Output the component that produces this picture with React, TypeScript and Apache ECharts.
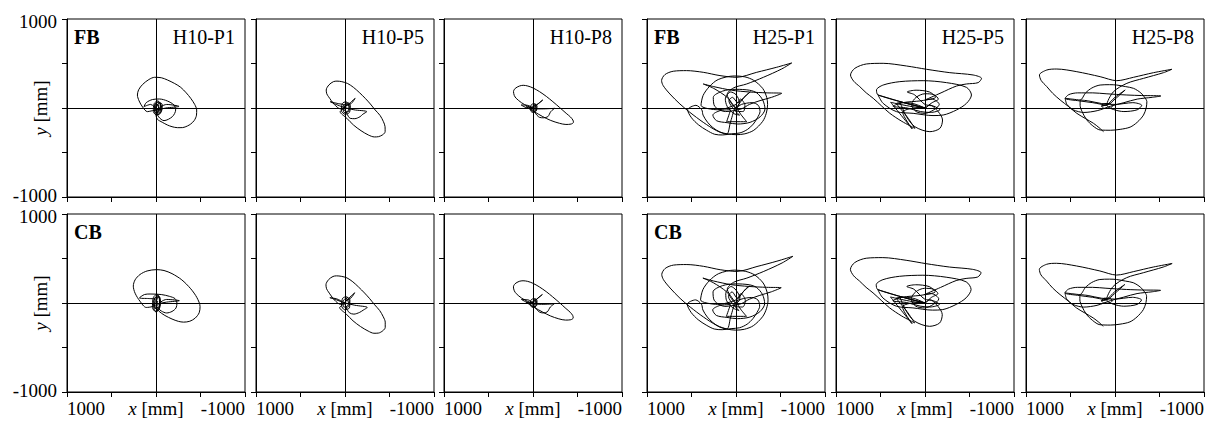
import React, { useEffect, useRef } from "react";
import * as echarts from "echarts";

const AXIS_MIN = -1000;
const AXIS_MAX = 1000;
const AXIS_STEP = 500;
const rowNames = ["FB", "CB"];
const panelNames = ["H10-P1", "H10-P5", "H10-P8", "H25-P1", "H25-P5", "H25-P8"];
const yTickLabels = [1000, -1000];
const xTickLabels = [1000, -1000];
const xAxisTitle = "{i|x} [mm]";
const yAxisTitle = "{i|y} [mm]";

// trajectories in mm: [x, y]
const fbH10P1 = [[0,0],[-40,60],[-70,40],[-60,-40],[-10,-80],[30,-40],[20,50],[-20,80],[-60,20],[-50,-60],[0,-70],[20,0],[-10,60],[-50,50],[-40,-30],[10,-50],[15,30],[-25,70],[-55,10],[-35,-55],[5,-30],[0,40],[-30,30],[-20,-20],
[60,40],[135,15],[110,60],[40,95],[-40,101],[-127,79],[-202,34],[-221,-22],[-184,-97],[-90,-142],[-30,-100],[-10,-40],
[-120,40],[-259,18],[-110,0],[-20,-20],
[40,-30],[97,-41],[150,10],[190,80],[209,146],[195,205],[150,265],[80,320],[15,345],[-60,340],[-128,315],[-210,275],[-278,232],[-340,170],[-390,109],[-435,40],[-457,-22],[-455,-80],[-430,-140],[-390,-180],[-353,-202],[-300,-220],[-240,-221],[-180,-210],[-128,-191],[-70,-160],[-16,-127],[0,-80],[-30,-20],[-20,40],[0,10]];

const fbH10P5 = [[0,0],[-30,60],[-60,30],[-50,-50],[0,-70],[40,-30],[30,50],[-10,70],[-50,20],[-40,-40],[10,-50],[20,20],[-20,55],[-45,0],[-20,-45],[15,-10],[0,30],
[80,50],[166,71],[100,40],[20,10],[-100,-20],[-245,-41],[-200,-70],[-170,-97],[-110,-120],[-58,-116],[-20,-60],[0,0],[-60,60],[-114,109],[-70,50],[-20,30],[30,-20],
[55,-41],[-20,-115],[-95,-191],[-180,-255],[-264,-304],[-330,-325],[-376,-322],[-425,-300],[-451,-266],[-450,-210],[-432,-154],[-395,-85],[-339,-22],[-285,45],[-227,109],[-160,175],[-95,232],[-30,275],[36,296],[90,302],[130,296],[180,260],[211,202],[205,160],[185,127],[120,40],[50,-10],[0,0]];

const fbH10P8 = [[0,0],[-25,45],[-45,20],[-35,-35],[5,-50],[30,-20],[20,35],[-15,50],[-40,5],[-20,-40],[15,-30],[10,15],[-15,35],[-30,0],[-10,-30],[5,0],
[60,30],[133,34],[90,10],[20,-10],[-100,-10],[-242,-4],[-200,-40],[-167,-97],[-120,-110],[-73,-105],[-20,-50],[0,0],[-60,50],[-110,90],[-50,40],[0,0],
[77,15],[-20,-45],[-110,-97],[-200,-140],[-298,-172],[-370,-185],[-429,-180],[-455,-160],[-448,-135],[-420,-100],[-373,-60],[-300,5],[-223,71],[-150,130],[-73,184],[0,225],[58,247],[110,255],[152,247],[200,220],[219,184],[210,140],[189,109],[130,60],[60,20],[0,0]];

const fbH25P1 = [[0,0],[-60,80],[-120,150],[-160,180],[-90,120],[-20,60],[40,120],[80,80],[20,-20],[-40,-80],[30,-60],[100,20],[120,100],[60,180],[0,150],[-40,60],[10,-30],[-80,-40],[-100,30],[-50,100],[0,40],
[200,-20],
[393,30],[370,140],[300,240],[200,320],[20,360],[-100,350],[-200,310],[-300,220],[-345,120],[-355,40],[-340,-60],[-300,-150],[-200,-250],[-100,-290],[0,-300],[100,-290],[180,-270],[260,-220],[320,-160],[370,-80],[385,-20],
[450,30],[544,-22],[500,-110],[420,-190],[330,-250],[240,-295],[151,-303],[50,-290],[-45,-280],[-130,-240],[-195,-180],[-240,-110],[-270,-40],[-250,30],[-180,60],[-60,40],[0,0],
[100,120],[250,220],[368,270],[250,240],[50,200],[-150,180],[-350,170],[-514,165],[-400,120],[-270,83],[-150,40],[-60,-10],
[120,-40],[240,20],[255,120],[150,190],[0,210],[-150,200],[-233,170],[-300,90],[-326,-11],[-270,-100],[-158,-161],[-20,-180],[100,-165],[218,-143],[260,-80],[180,-30],[60,-20],
[105,-154],[-120,-154],[-60,-80],[0,0],
[60,-150],[105,-293],[218,-255],[368,-161],[518,-49],[630,45],[743,158],[818,251],[836,308],[799,375],[705,413],[555,420],[368,401],[180,364],[-8,345],[-233,401],[-458,458],[-626,506],[-514,439],[-308,345],[-120,270],[30,225],[100,150],[50,60],[0,0]];

const fbH25P5 = [[0,0],[-80,60],[-150,100],[-100,150],[0,160],[100,120],[150,40],[100,-40],[0,-60],[-100,-20],[-160,40],[-80,100],[50,80],[250,60],[358,20],[200,0],[50,-40],[-60,-50],[-167,-20],[-100,20],[0,40],[120,150],[200,180],[100,200],[-50,180],[-120,120],[0,90],
[-180,170],[-354,247],[-466,270],[-597,285],[-635,333],[-541,371],[-279,397],[-17,435],[208,472],[470,502],[657,495],[788,446],[837,371],[800,300],[733,240],[660,170],[582,109],[490,25],[395,-60],[260,-150],[114,-229],[200,-100],[320,52],[200,60],[100,40],[0,0],
[527,146],[545,202],[470,258],[283,296],[21,307],[-241,285],[-466,232],[-522,146],[-466,52],[-354,-22],[-204,-79],[-90,-85],[133,-60],[320,-41],[470,52],[527,146],
[200,50],[0,0],
[283,71],[208,-97],[114,-210],[-55,-266],[-167,-229],[-197,-135],[-148,-41],[-54,34],[0,0],
[386,64],[143,-236],[250,-50],[100,0],[0,0]];

const fbH25P8 = [[92,34],[150,22],[120,50],[60,50],[30,22],[60,-5],[120,-5],[150,22],[92,34],
[0,120],[-114,202],[0,100],[92,34],
[250,60],[400,80],[560,109],[520,150],[420,170],[250,170],[100,160],[-133,146],[-300,140],[-515,135],[-420,120],[-250,100],[-100,60],[50,20],[200,-30],[350,-50],[470,-20],[540,40],[560,109],[480,100],[392,90],
[330,170],[260,225],[167,258],[60,262],[-20,258],[-120,240],[-208,221],[-290,170],[-340,110],[-358,71],[-350,0],[-320,-80],[-250,-160],[-170,-215],[-58,-240],[50,-250],[167,-247],[250,-200],[320,-130],[370,-40],[392,30],[392,90],
[300,80],[150,50],[0,40],[-200,60],[-300,30],[-250,-20],[-100,-40],[92,34],
[20,180],[-133,277],[-320,333],[-545,397],[-639,435],[-433,397],[-208,345],[-20,307],[167,352],[429,408],[654,438],[766,427],[849,371],[830,310],[766,240],[700,165],[616,90],[520,15],[429,-60],[330,-120],[242,-172],[180,-220],[129,-266]];

const cbH10P1 = [[0,0],[-30,80],[-50,40],[-40,-60],[0,-100],[40,-50],[30,60],[-10,100],[-45,20],[-30,-80],[10,-90],[30,0],[0,70],[-40,60],[-35,-40],[15,-60],[20,30],[-20,85],[-45,-10],[-10,-75],[20,-20],[0,40],
[80,50],[187,56],[130,95],[67,101],[-60,95],[-150,75],[-214,49],[-235,0],[-225,-56],[-180,-95],[-120,-112],[-60,-90],[-10,-40],
[-120,40],[-262,26],[-120,10],[-20,-10],
[40,-40],[110,-50],[180,20],[235,110],[255,190],[235,260],[180,320],[100,360],[-7,375],[-90,365],[-180,330],[-290,260],[-390,160],[-460,60],[-495,-40],[-485,-110],[-440,-170],[-380,-205],[-310,-215],[-251,-206],[-180,-180],[-100,-140],[-30,-90],[0,-40],[-20,20],[0,0]];

const cbH10P5 = [[0,0],[-25,65],[-55,35],[-50,-55],[5,-75],[40,-25],[25,55],[-15,70],[-50,15],[-35,-45],[15,-45],[20,25],[-15,50],[-40,-5],[-15,-40],[10,0],
[90,45],[170,60],[95,35],[15,5],[-110,-25],[-250,-50],[-205,-80],[-165,-105],[-100,-125],[-50,-110],[-15,-55],[0,0],[-55,65],[-110,115],[-65,55],[-15,25],[30,-25],
[60,-50],[-15,-125],[-90,-200],[-175,-265],[-260,-315],[-325,-340],[-375,-338],[-425,-312],[-452,-275],[-452,-215],[-430,-155],[-390,-85],[-333,-20],[-278,48],[-220,112],[-152,180],[-88,238],[-22,282],[42,300],[95,305],[135,298],[185,262],[214,205],[207,160],[186,125],[120,35],[50,-15],[0,0]];

const cbH10P8 = [[0,0],[-20,50],[-45,25],[-40,-30],[0,-50],[30,-25],[25,30],[-10,50],[-40,10],[-25,-40],[10,-35],[10,10],[-15,35],[-30,0],[-10,-25],[5,5],
[55,35],[130,40],[85,15],[20,-5],[-95,-15],[-238,-10],[-195,-45],[-160,-100],[-115,-112],[-70,-100],[-20,-45],[0,0],[-55,55],[-105,95],[-45,45],[0,0],
[80,10],[-15,-50],[-105,-100],[-195,-145],[-290,-178],[-365,-192],[-425,-188],[-452,-168],[-446,-140],[-418,-104],[-370,-62],[-298,3],[-220,70],[-148,128],[-70,182],[2,222],[60,243],[112,250],[155,243],[202,216],[220,180],[210,137],[188,105],[128,55],[60,18],[0,0]];

const cbH25P1 = [[0,0],[-55,90],[-110,160],[-150,190],[-80,125],[-15,55],[45,125],[85,75],[25,-25],[-35,-85],[35,-55],[105,25],[115,105],[55,185],[0,145],[-45,55],[15,-35],[-75,-45],[-105,25],[-55,105],[0,35],
[205,-15],
[398,35],[372,150],[300,250],[195,330],[15,370],[-110,355],[-210,315],[-305,225],[-350,120],[-360,35],[-342,-65],[-298,-155],[-195,-255],[-95,-295],[5,-305],[105,-292],[185,-270],[262,-218],[322,-158],[372,-78],[388,-15],
[455,35],[548,-15],[505,-105],[425,-188],[335,-248],[245,-292],[155,-300],[55,-288],[-40,-278],[-125,-238],[-190,-176],[-236,-106],[-266,-36],[-246,34],[-176,62],[-56,42],[0,0],
[105,125],[255,228],[372,280],[255,248],[55,206],[-145,186],[-345,176],[-508,172],[-398,126],[-268,86],[-148,42],[-58,-8],
[125,-38],[242,25],[258,125],[152,195],[2,215],[-148,205],[-230,175],[-298,95],[-322,-8],[-268,-98],[-156,-158],[-18,-176],[102,-162],[220,-140],[262,-78],[182,-28],[62,-18],
[108,-150],[-118,-150],[-58,-78],[0,0],
[58,-148],[102,-290],[215,-252],[365,-158],[515,-45],[628,52],[740,168],[815,262],[834,320],[796,388],[702,426],[552,432],[365,412],[178,374],[-10,355],[-236,410],[-460,470],[-640,525],[-518,450],[-312,355],[-122,280],[28,232],[98,155],[48,62],[0,0]];

const cbH25P5 = [[0,0],[-75,65],[-145,105],[-95,155],[5,165],[105,125],[155,45],[105,-35],[5,-55],[-95,-15],[-155,45],[-75,105],[55,85],[255,65],[362,25],[205,5],[55,-35],[-55,-45],[-162,-15],[-95,25],[5,45],[125,155],[205,185],[105,205],[-45,185],[-115,125],[5,95],
[-175,175],[-350,252],[-462,276],[-592,292],[-630,340],[-536,378],[-275,404],[-12,442],[212,480],[474,510],[660,503],[790,454],[838,378],[802,306],[735,246],[662,176],[584,114],[492,30],[397,-55],[262,-146],[116,-224],[202,-96],[322,56],[202,64],[102,44],[0,0],
[530,150],[548,206],[473,262],[286,300],[24,312],[-238,290],[-462,238],[-518,152],[-462,58],[-350,-16],[-200,-74],[-86,-80],[136,-55],[322,-36],[472,56],[530,150],
[200,50],[0,0],
[286,75],[210,-92],[116,-205],[-52,-262],[-164,-225],[-194,-131],[-145,-37],[-51,38],[0,0],
[388,68],[146,-232],[252,-46],[102,4],[0,0]];

const cbH25P8 = [[95,38],[152,26],[122,54],[62,54],[32,26],[62,-2],[122,-2],[152,26],[95,38],
[5,125],[-110,208],[5,105],[95,38],
[252,64],[402,84],[562,114],[522,156],[422,176],[252,176],[102,166],[-130,152],[-298,146],[-512,142],[-418,126],[-248,106],[-98,66],[52,26],[202,-26],[352,-46],[472,-16],[542,44],[562,114],[482,104],[395,95],
[332,175],[262,230],[170,264],[62,268],[-18,264],[-118,246],[-205,228],[-288,176],[-338,116],[-355,76],[-348,5],[-318,-75],[-248,-156],[-168,-212],[-56,-238],[52,-248],[170,-244],[252,-196],[322,-126],[372,-36],[395,35],[395,95],
[302,84],[152,54],[2,44],[-198,64],[-298,34],[-248,-16],[-98,-36],[95,38],
[22,185],[-130,284],[-318,340],[-542,404],[-642,444],[-430,404],[-205,352],[-18,314],[170,360],[432,416],[657,446],[768,435],[850,378],[832,316],[768,246],[702,170],[618,95],[522,20],[432,-56],[332,-116],[245,-168],[182,-216],[132,-262]];

const traces = [
  [fbH10P1, fbH10P5, fbH10P8, fbH25P1, fbH25P5, fbH25P8],
  [cbH10P1, cbH10P5, cbH10P8, cbH25P1, cbH25P5, cbH25P8],
];

const colLefts = [67, 256, 444, 647, 836, 1026];
const rowTops = [19, 214];
const SIZE = 178;
const FONT = "'Liberation Serif', 'Times New Roman', serif";
const TICK_SIZE = 19;
const NAME_SIZE = 20;

function buildOption() {
  const grids: any[] = [];
  const xAxes: any[] = [];
  const yAxes: any[] = [];
  const series: any[] = [];
  const graphics: any[] = [];
  const base = { fontFamily: FONT, fontSize: TICK_SIZE, color: "#000", lineHeight: 14 };
  const richItalic = { i: { ...base, fontStyle: "italic" } };
  const richY = {
    hi: { ...base, padding: [5, 0, 0, 0] },
    lo: { ...base, padding: [0, 0, 3, 0] },
  };
  let idx = 0;
  for (let r = 0; r < 2; r++) {
    for (let c = 0; c < 6; c++) {
      grids.push({
        left: colLefts[c], top: rowTops[r], width: SIZE, height: SIZE,
        show: true, borderColor: "#000", borderWidth: 1, backgroundColor: "transparent",
        containLabel: false, outerBoundsMode: "none",
      });
      xAxes.push({
        gridIndex: idx, type: "value", min: AXIS_MIN, max: AXIS_MAX, interval: AXIS_STEP, inverse: true,
        axisLine: { show: true, onZero: false, lineStyle: { color: "#000", width: 1 } },
        axisTick: { show: true, inside: false, length: 5, lineStyle: { color: "#000", width: 1 } },
        splitLine: { show: false },
        axisLabel: {
          show: r === 1, margin: 9, ...base,
          alignMinLabel: "right", alignMaxLabel: "left", hideOverlap: false,
          formatter: (v: number) => (v === 0 ? xAxisTitle : xTickLabels.includes(v) ? String(v) : ""),
          rich: richItalic,
        },
      });
      yAxes.push({
        gridIndex: idx, type: "value", min: AXIS_MIN, max: AXIS_MAX, interval: AXIS_STEP,
        axisLine: { show: true, onZero: false, lineStyle: { color: "#000", width: 1 } },
        axisTick: { show: true, inside: false, length: 5, lineStyle: { color: "#000", width: 1 } },
        splitLine: { show: false },
        axisLabel: {
          show: c === 0, margin: 10, ...base, hideOverlap: false,
          formatter: (v: number) =>
            yTickLabels.includes(v) ? (v > 0 ? "{hi|" + v + "}" : "{lo|" + v + "}") : "",
          rich: richY,
        },
        name: c === 0 ? yAxisTitle : "",
        nameLocation: "middle", nameRotate: 90, nameGap: 17, nameMoveOverlap: false,
        nameTextStyle: { color: "#000", fontFamily: FONT, fontSize: TICK_SIZE, rich: richItalic },
      });
      series.push({
        type: "line", xAxisIndex: idx, yAxisIndex: idx, data: traces[r][c],
        showSymbol: false, symbol: "none", smooth: 0.3, silent: true,
        lineStyle: { color: "#000", width: 1 },
        markLine: {
          silent: true, symbol: "none", label: { show: false },
          lineStyle: { color: "#000", width: 1, type: "solid" },
          data: [{ xAxis: 0 }, { yAxis: 0 }],
        },
      });
      idx++;
    }
  }
  for (let r = 0; r < 2; r++) {
    [0, 3].forEach((c) => {
      graphics.push({
        type: "text", x: colLefts[c] + 7, y: rowTops[r] + 18,
        style: { text: rowNames[r], fontFamily: FONT, fontSize: NAME_SIZE, fontWeight: "bold", fill: "#000", align: "left", verticalAlign: "middle" },
      });
    });
  }
  panelNames.forEach((pn, c) => {
    graphics.push({
      type: "text", x: colLefts[c] + SIZE - 10, y: rowTops[0] + 18,
      style: { text: pn, fontFamily: FONT, fontSize: NAME_SIZE, fill: "#000", align: "right", verticalAlign: "middle" },
    });
  });
  return {
    animation: false,
    backgroundColor: "#fff",
    grid: grids, xAxis: xAxes, yAxis: yAxes, series, graphic: graphics,
  };
}

export default function App() {
  const ref = useRef<HTMLDivElement>(null);
  useEffect(() => {
    if (!ref.current) return;
    const chart = echarts.init(ref.current, undefined, { renderer: "svg" });
    chart.setOption(buildOption());
    return () => chart.dispose();
  }, []);
  return <div ref={ref} style={{ position: "fixed", left: 0, top: 0, width: 1215, height: 421 }} />;
}
